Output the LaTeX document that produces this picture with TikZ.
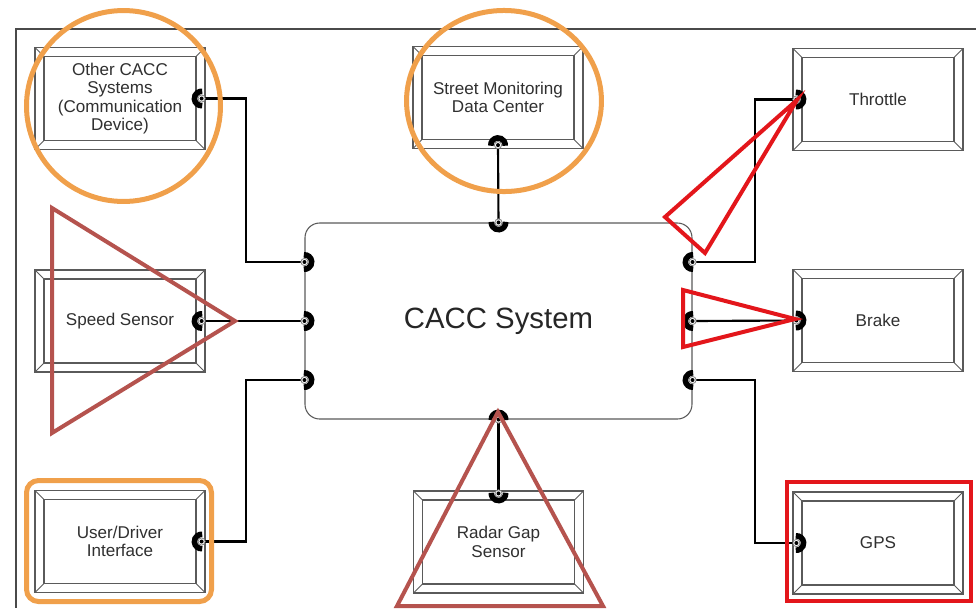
\documentclass[tikz,border=0pt]{standalone}
\usepackage{fontspec}
\setmainfont{Liberation Sans}
\usetikzlibrary{calc}

\definecolor{frameline}{HTML}{4A4A4A}
\definecolor{boxline}{HTML}{5A5A5A}
\definecolor{textgray}{HTML}{303030}
\definecolor{markorange}{HTML}{F0A04B}
\definecolor{markred}{HTML}{E3161B}
\definecolor{markbrown}{HTML}{B5534E}

\tikzset{
  bevelbox/.style={draw=boxline, line width=0.9pt, fill=white,
    minimum width=127.5pt, minimum height=76.5pt, inner sep=0pt,
    align=center, text=textgray, font=\fontsize{12.8pt}{13.9pt}\selectfont,
    path picture={
      \draw[boxline, line width=0.9pt]
        ([shift={(6.75pt,-6.75pt)}]path picture bounding box.north west) rectangle
        ([shift={(-6.75pt,6.75pt)}]path picture bounding box.south east);
      \draw[boxline, line width=0.6pt]
        (path picture bounding box.north west) -- ++(6.75pt,-6.75pt)
        (path picture bounding box.north east) -- ++(-6.75pt,-6.75pt)
        (path picture bounding box.south west) -- ++(6.75pt,6.75pt)
        (path picture bounding box.south east) -- ++(-6.75pt,6.75pt);
    }},
  corebox/.style={draw=boxline, line width=0.8pt, fill=white, rounded corners=11pt,
    minimum width=290.25pt, minimum height=147pt, inner sep=0pt,
    text=black!85, font=\fontsize{22pt}{26pt}\selectfont},
  wire/.style={draw=black, line width=1.6pt},
  markring/.style={draw=markorange, line width=3.75pt},
  markwedge/.style={draw=markred, line width=3pt},
  markcone/.style={draw=markbrown, line width=3pt}
}

% port symbol: thick half ring facing direction #2, with a small terminal in the middle
\newcommand{\portmark}[2]{%
  \begin{scope}[shift={(#1)}, rotate=#2]
    \draw[line width=4.2pt, black] (95:5.4pt) arc[start angle=95, end angle=-95, radius=5.4pt];
    \filldraw[fill=white, draw=gray, line width=0.6pt] (0,0) circle[radius=2.7pt];
    \fill[black] (0,0) circle[radius=1.5pt];
  \end{scope}}

\begin{document}
\begin{tikzpicture}[x=0.75pt, y=-0.75pt]
\useasboundingbox (0,0) rectangle (976,608);

% outer frame
\draw[frameline, line width=1.1pt] (976,29) -- (16,29) -- (16,608);

% peripheral units
\node[bevelbox] (oc) at (120,98.5) {Other CACC\\Systems\\(Communication\\Device)};
\node[bevelbox] (sm) at (498,97.5) {Street Monitoring\\Data Center};
\node[bevelbox] (th) at (878,99.5) {Throttle};
\node[bevelbox] (ss) at (120,321) {Speed Sensor};
\node[bevelbox] (br) at (878,320.5) {Brake};
\node[bevelbox] (ud) at (120,541.5) {User/Driver\\Interface};
\node[bevelbox] (rg) at (498.5,542) {Radar Gap\\Sensor};
\node[bevelbox] (gp) at (878,543) {GPS};

% central controller
\node[corebox] (cacc) at (498.5,321) {CACC System};

% port positions
\coordinate (ocP) at ($(oc.east)+(-4,0)$);
\coordinate (smP) at ($(sm.south)+(0,-4)$);
\coordinate (thP) at ($(th.west)+(4,0)$);
\coordinate (ssP) at ($(ss.east)+(-4,0)$);
\coordinate (brP) at ($(br.west)+(4,0)$);
\coordinate (udP) at ($(ud.east)+(-4,0)$);
\coordinate (rgP) at ($(rg.north)+(0,3)$);
\coordinate (gpP) at ($(gp.west)+(4,0)$);
\coordinate (cT) at (cacc.north);
\coordinate (cB) at (cacc.south);
\coordinate (cL1) at ($(cacc.west)+(0,-59)$);
\coordinate (cL2) at (cacc.west);
\coordinate (cL3) at ($(cacc.west)+(0,59)$);
\coordinate (cR1) at ($(cacc.east)+(0,-59)$);
\coordinate (cR2) at (cacc.east);
\coordinate (cR3) at ($(cacc.east)+(0,59)$);
\coordinate (bendL) at (246,0);
\coordinate (bendR) at (755,0);

% wiring
\draw[wire] (ocP) -| (bendL |- cL1) -- (cL1);
\draw[wire] (smP) -- (cT);
\draw[wire] (ssP) -- (cL2);
\draw[wire] (udP) -| (bendL |- cL3) -- (cL3);
\draw[wire] (cR1) -| (bendR |- thP) -- (thP);
\draw[wire] (cR2) -- (brP);
\draw[wire] (cR3) -| (bendR |- gpP) -- (gpP);
\draw[wire] (cB) -- (rgP);

% ports
\portmark{ocP}{180}
\portmark{ssP}{180}
\portmark{udP}{180}
\portmark{smP}{90}
\portmark{rgP}{270}
\portmark{thP}{0}
\portmark{brP}{0}
\portmark{gpP}{0}
\portmark{cT}{270}
\portmark{cB}{90}
\portmark{cL1}{0}
\portmark{cL2}{0}
\portmark{cL3}{0}
\portmark{cR1}{180}
\portmark{cR2}{180}
\portmark{cR3}{180}

% highlight marks
\draw[markring] (123.5,106) ellipse [x radius=72.75pt, y radius=71.6pt];
\draw[markring] (504,101) ellipse [x radius=73.1pt, y radius=67.9pt];
\draw[markring, rounded corners=9pt] (26.5,480.5) rectangle (211.5,601.5);
\draw[markwedge] (787,482) rectangle (971,601);
\draw[markcone] (52,208) -- (52,433) -- (235,321) -- cycle;
\draw[markcone] (498,412) -- (397,606) -- (603,606) -- cycle;
\draw[markwedge] (797,100) -- (665,217) -- (705,253) -- cycle;
\draw[markwedge] (683,290) -- (683,347) -- (795,319) -- cycle;
\end{tikzpicture}
\end{document}
